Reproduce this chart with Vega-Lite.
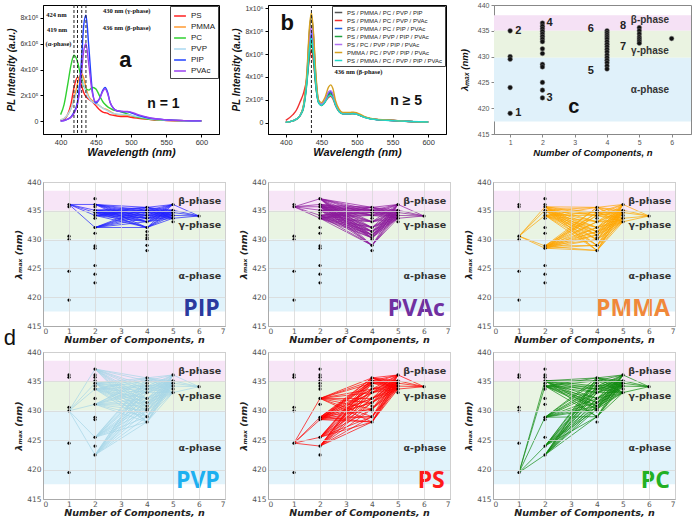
{
"$schema":"https://vega.github.io/schema/vega-lite/v6.json",
"padding":{"left":3,"top":0,"right":2,"bottom":2},
"background":"#ffffff",
"config":{"font":"Liberation Sans","view":{"stroke":"#000"},"axis":{"labelFont":"Liberation Sans","titleFont":"Liberation Sans","labelOverlap":false}},
"datasets":{
"specA":[
{"s":"PS","w":[400,405,410,415,419,424,427,430,433,436,440,445,450,455,460,463,467,470,475,480,490,495,500,510,520,530,550,575,600],"I":[0.05,0.15,0.5,1.4,2.6,3.4,3.2,2.7,2.2,1.9,1.7,1.5,1.2,0.9,0.7,0.65,0.6,0.5,0.45,0.4,0.35,0.35,0.3,0.22,0.15,0.1,0.05,0.02,0.01]},
{"s":"PMMA","w":[400,405,410,415,419,424,427,430,433,436,440,445,450,455,460,463,467,470,475,480,490,495,500,510,520,530,550,575,600],"I":[0.1,0.2,0.5,1.0,1.7,2.9,3.5,3.7,3.3,2.6,1.9,1.6,1.4,1.2,1.0,0.95,0.85,0.75,0.6,0.5,0.45,0.45,0.4,0.3,0.2,0.15,0.08,0.03,0.01]},
{"s":"PC","w":[400,405,410,415,419,424,427,430,433,436,440,445,450,455,460,463,467,470,475,480,490,495,500,510,520,530,550,575,600],"I":[0.5,1.3,2.8,4.4,5.1,4.6,3.9,3.3,2.7,2.5,2.4,2.6,2.5,2.0,1.5,1.3,1.1,1.0,0.85,0.8,0.65,0.55,0.45,0.3,0.2,0.12,0.06,0.02,0.01]},
{"s":"PVP","w":[400,405,410,415,419,424,427,430,433,436,440,445,450,455,460,463,467,470,475,480,490,495,500,510,520,530,550,575,600],"I":[0.1,0.2,0.5,1.0,1.6,2.4,2.9,3.1,2.8,2.3,1.8,1.5,1.35,1.2,1.0,0.9,0.8,0.7,0.6,0.55,0.5,0.5,0.45,0.35,0.25,0.15,0.08,0.03,0.01]},
{"s":"PIP","w":[400,405,410,415,419,424,427,430,433,436,440,445,450,455,460,463,467,470,475,480,490,495,500,510,520,530,550,575,600],"I":[0.0,0.05,0.15,0.35,0.7,1.5,2.8,5.0,7.5,8.2,5.8,2.4,1.4,1.7,2.4,2.6,2.2,1.5,1.0,0.8,0.72,0.72,0.65,0.45,0.3,0.2,0.1,0.04,0.02]},
{"s":"PVAc","w":[400,405,410,415,419,424,427,430,433,436,440,445,450,455,460,463,467,470,475,480,490,495,500,510,520,530,550,575,600],"I":[0.0,0.05,0.15,0.3,0.6,1.3,2.3,3.9,5.5,6.0,4.4,2.2,1.5,1.7,2.3,2.5,2.1,1.5,1.0,0.8,0.75,0.75,0.7,0.5,0.35,0.22,0.1,0.04,0.02]}
],
"specB":[
{"s":"PS / PMMA / PC / PVP / PIP","w":[400,410,415,420,425,430,433,436,439,442,446,450,455,460,463,466,470,475,480,490,495,500,510,520,530,550,575,600],"I":[0.03,0.15,0.3,0.6,1.5,4.5,7.8,9.4,7.5,4.2,1.9,1.6,1.9,2.5,2.6,2.4,1.6,1.0,0.8,0.8,0.82,0.75,0.5,0.33,0.26,0.18,0.1,0.05]},
{"s":"PS / PMMA / PC / PVP / PVAc","w":[400,410,415,420,425,430,433,436,439,442,446,450,455,460,463,466,470,475,480,490,495,500,510,520,530,550,575,600],"I":[0.2,0.7,1.1,1.8,2.6,4.0,5.5,6.4,5.2,3.3,1.8,1.55,1.8,2.2,2.3,2.1,1.45,0.95,0.78,0.76,0.78,0.72,0.48,0.32,0.25,0.18,0.1,0.05]},
{"s":"PS / PMMA / PC / PIP / PVAc","w":[400,410,415,420,425,430,433,436,439,442,446,450,455,460,463,466,470,475,480,490,495,500,510,520,530,550,575,600],"I":[0.03,0.15,0.3,0.6,1.4,4.0,6.6,7.8,6.3,3.6,1.8,1.55,1.9,2.6,2.7,2.45,1.6,1.0,0.8,0.8,0.82,0.75,0.5,0.33,0.26,0.18,0.1,0.05]},
{"s":"PS / PMMA / PVP / PIP / PVAc","w":[400,410,415,420,425,430,433,436,439,442,446,450,455,460,463,466,470,475,480,490,495,500,510,520,530,550,575,600],"I":[0.03,0.15,0.3,0.6,1.3,3.7,6.0,7.0,5.7,3.3,1.75,1.5,1.8,2.4,2.5,2.3,1.55,0.98,0.78,0.78,0.8,0.73,0.48,0.32,0.25,0.18,0.1,0.05]},
{"s":"PS / PC / PVP / PIP / PVAc","w":[400,410,415,420,425,430,433,436,439,442,446,450,455,460,463,466,470,475,480,490,495,500,510,520,530,550,575,600],"I":[0.03,0.15,0.3,0.6,1.5,4.3,7.2,8.4,6.8,3.9,1.85,1.6,1.95,2.7,2.8,2.55,1.65,1.02,0.8,0.8,0.82,0.75,0.5,0.33,0.26,0.18,0.1,0.05]},
{"s":"PMMA / PC / PVP / PIP / PVAc","w":[400,410,415,420,425,430,433,436,439,442,446,450,455,460,463,466,470,475,480,490,495,500,510,520,530,550,575,600],"I":[0.03,0.15,0.3,0.6,1.6,4.8,8.2,9.6,7.8,4.5,2.0,1.75,2.2,3.1,3.3,3.0,1.9,1.15,0.88,0.88,0.92,0.85,0.55,0.36,0.28,0.2,0.1,0.05]},
{"s":"PS / PMMA / PC / PVP / PIP / PVAc","w":[400,410,415,420,425,430,433,436,439,442,446,450,455,460,463,466,470,475,480,490,495,500,510,520,530,550,575,600],"I":[0.03,0.15,0.3,0.6,1.4,3.9,6.3,7.4,6.0,3.5,1.75,1.5,1.8,2.3,2.4,2.2,1.5,0.95,0.76,0.76,0.78,0.72,0.47,0.31,0.24,0.17,0.1,0.05]}
],
"ptsC":[
{"n":1,"y":435},{"n":1,"y":430},{"n":1,"y":429.5},{"n":1,"y":424},{"n":1,"y":419},
{"n":2,"y":436.5},{"n":2,"y":435.9},{"n":2,"y":435.4},{"n":2,"y":434.9},{"n":2,"y":434.4},{"n":2,"y":433.9},{"n":2,"y":433.4},{"n":2,"y":432.9},{"n":2,"y":431.5},{"n":2,"y":430.6},{"n":2,"y":428.5},{"n":2,"y":428.0},{"n":2,"y":425.0},{"n":2,"y":423.5},{"n":2,"y":422.0},
{"n":4,"y":435.0},{"n":4,"y":434.6},{"n":4,"y":434.2},{"n":4,"y":433.8},{"n":4,"y":433.4},{"n":4,"y":432.9},{"n":4,"y":432.4},{"n":4,"y":431.9},{"n":4,"y":431.4},{"n":4,"y":430.9},{"n":4,"y":430.3},{"n":4,"y":429.8},{"n":4,"y":429.3},{"n":4,"y":428.8},{"n":4,"y":428.2},{"n":4,"y":427.6},
{"n":5,"y":435.6},{"n":5,"y":435.0},{"n":5,"y":434.4},{"n":5,"y":433.8},{"n":5,"y":433.4},{"n":5,"y":433.0},{"n":5,"y":432.6},
{"n":6,"y":433.5}
],
"ptsD":[
{"n":1,"y":436.1},{"n":1,"y":435.7},{"n":1,"y":430.6},{"n":1,"y":430.0},{"n":1,"y":424.5},{"n":1,"y":419.5},
{"n":2,"y":437.1},{"n":2,"y":436.1},{"n":2,"y":435.7},{"n":2,"y":435.1},{"n":2,"y":434.7},{"n":2,"y":434.2},{"n":2,"y":433.7},{"n":2,"y":432.1},{"n":2,"y":431.1},{"n":2,"y":428.9},{"n":2,"y":428.5},{"n":2,"y":425.5},{"n":2,"y":424.0},{"n":2,"y":422.5},
{"n":4,"y":435.6},{"n":4,"y":435.1},{"n":4,"y":434.7},{"n":4,"y":434.2},{"n":4,"y":433.7},{"n":4,"y":433.1},{"n":4,"y":432.1},{"n":4,"y":431.4},{"n":4,"y":430.8},{"n":4,"y":430.3},{"n":4,"y":430.0},{"n":4,"y":429.0},{"n":4,"y":428.1},
{"n":5,"y":436.1},{"n":5,"y":435.1},{"n":5,"y":434.7},{"n":5,"y":434.2},{"n":5,"y":433.7},{"n":5,"y":433.1},
{"n":6,"y":434.1}
],
"seg":[
{"p":"PIP","n":1,"n2":2,"y":[436.1],"y2":[436.1,435.1,434.7,434.2,432.1]},
{"p":"PIP","n":2,"n2":4,"y":[436.1,435.1,434.7,434.2,432.1],"y2":[435.6,435.1,434.7,434.2,433.7,433.1,432.1]},
{"p":"PIP","n":4,"n2":5,"y":[435.6,435.1,434.7,434.2,433.7,433.1,432.1],"y2":[436.1,435.1,434.7,434.2,433.7]},
{"p":"PIP","n":5,"n2":6,"y":[436.1,435.1,434.7,434.2,433.7],"y2":[434.1]},
{"p":"PVAc","n":1,"n2":2,"y":[435.7],"y2":[437.1,436.1,435.7,435.1,434.2,433.7]},
{"p":"PVAc","n":2,"n2":4,"y":[437.1,436.1,435.7,435.1,434.2,433.7],"y2":[435.6,435.1,434.7,434.2,433.1,432.1,431.4,430.8,430.3,429.0]},
{"p":"PVAc","n":4,"n2":5,"y":[435.6,435.1,434.7,434.2,433.1,432.1,431.4,430.8,430.3,429.0],"y2":[436.1,435.1,434.7,434.2,433.7]},
{"p":"PVAc","n":5,"n2":6,"y":[436.1,435.1,434.7,434.2,433.7],"y2":[434.1]},
{"p":"PMMA","n":1,"n2":2,"y":[430.6],"y2":[435.7,435.1,434.2,428.9,428.5]},
{"p":"PMMA","n":2,"n2":4,"y":[435.7,435.1,434.2,428.9,428.5],"y2":[435.6,434.7,434.2,433.1,432.1,431.4,430.8,430.0,429.0,428.1]},
{"p":"PMMA","n":4,"n2":5,"y":[435.6,434.7,434.2,433.1,432.1,431.4,430.8,430.0,429.0,428.1],"y2":[436.1,435.1,434.7,433.7,433.1]},
{"p":"PMMA","n":5,"n2":6,"y":[436.1,435.1,434.7,433.7,433.1],"y2":[434.1]},
{"p":"PVP","n":1,"n2":2,"y":[430.0],"y2":[437.1,434.7,433.7,431.1,425.5,422.5]},
{"p":"PVP","n":2,"n2":4,"y":[437.1,434.7,433.7,431.1,425.5,422.5],"y2":[435.6,435.1,434.2,433.7,433.1,432.1,431.4,430.8,430.0,429.0,428.1]},
{"p":"PVP","n":4,"n2":5,"y":[435.6,435.1,434.2,433.7,433.1,432.1,431.4,430.8,430.0,429.0,428.1],"y2":[436.1,435.1,434.7,434.2,433.1]},
{"p":"PVP","n":5,"n2":6,"y":[436.1,435.1,434.7,434.2,433.1],"y2":[434.1]},
{"p":"PS","n":1,"n2":2,"y":[424.5],"y2":[432.1,428.9,428.5,425.5,424.0]},
{"p":"PS","n":2,"n2":4,"y":[432.1,428.9,428.5,425.5,424.0],"y2":[435.6,435.1,434.7,433.7,433.1,432.1,431.4,430.3,429.0,428.1]},
{"p":"PS","n":4,"n2":5,"y":[435.6,435.1,434.7,433.7,433.1,432.1,431.4,430.3,429.0,428.1],"y2":[436.1,435.1,434.7,434.2,433.7]},
{"p":"PS","n":5,"n2":6,"y":[436.1,435.1,434.7,434.2,433.7],"y2":[434.1]},
{"p":"PC","n":1,"n2":2,"y":[419.5],"y2":[435.1,434.2,428.9,424.0,422.5]},
{"p":"PC","n":2,"n2":4,"y":[435.1,434.2,428.9,424.0,422.5],"y2":[435.6,435.1,434.2,433.7,433.1,432.1,431.4,430.8,430.3,429.0]},
{"p":"PC","n":4,"n2":5,"y":[435.6,435.1,434.2,433.7,433.1,432.1,431.4,430.8,430.3,429.0],"y2":[436.1,435.1,434.7,434.2,433.1]},
{"p":"PC","n":5,"n2":6,"y":[436.1,435.1,434.7,434.2,433.1],"y2":[434.1]}
],
"bandsD":[{"ph":"β","y":435,"y2":438.5},{"ph":"γ","y":430,"y2":435},{"ph":"α","y":417.5,"y2":430}],
"bandsC":[{"ph":"β","y":435,"y2":438},{"ph":"γ","y":429.8,"y2":435},{"ph":"α","y":417.4,"y2":429.8}],
"phaseD":[{"t":"β-phase","y":436.7},{"t":"γ-phase","y":432.5},{"t":"α-phase","y":423.7}]
},
"vconcat":[
{"hconcat":[
{"width":176,"height":129,"view":{"stroke":"#000","strokeWidth":1},
"layer":[
{"data":{"name":"specA"},"transform":[{"flatten":["w","I"]}],
"mark":{"type":"line","strokeWidth":1.4,"interpolate":"monotone"},
"encoding":{
"x":{"field":"w","type":"quantitative","scale":{"domain":[375,625],"nice":false,"zero":false},"axis":{"values":[400,450,500,550,600],"tickCount":12,"format":"d","title":"Wavelength (nm)","titleFontSize":11,"titleFontStyle":"italic","titleFontWeight":"bold","titleColor":"#111","labelFontSize":7.5,"labelColor":"#333","labelPadding":1,"grid":false,"tickSize":3,"domainColor":"#000","tickColor":"#000","titlePadding":1}},
"y":{"field":"I","type":"quantitative","scale":{"domain":[-1,9],"nice":false,"zero":false},"axis":{"values":[0,2,4,6,8],"tickCount":12,"labelExpr":"datum.value==0?'0':datum.value+'x10⁵'","title":"PL Intensity (a.u.)","titleFontSize":10,"titleFontStyle":"italic","titleFontWeight":"bold","titleColor":"#111","labelFontSize":7,"labelColor":"#333","grid":false,"tickSize":3,"domainColor":"#000","tickColor":"#000","titlePadding":3}},
"color":{"field":"s","type":"nominal","scale":{"domain":["PS","PMMA","PC","PVP","PIP","PVAc"],"range":["#ff2020","#ff9a30","#30d030","#a8d8f0","#2040ff","#9a40f0"]},"legend":{"title":null,"orient":"top-right","offset":1,"strokeColor":"#444","fillColor":"#ffffff","padding":3,"labelFontSize":8,"labelColor":"#222","symbolType":"stroke","symbolStrokeWidth":1.5,"symbolSize":140,"rowPadding":0,"labelLimit":200}}
}},
{"data":{"values":[{"w":419},{"w":424},{"w":430},{"w":436}]},"mark":{"type":"rule","strokeDash":[3,2],"color":"#222","strokeWidth":1},"encoding":{"x":{"field":"w","type":"quantitative"}}},
{"data":{"values":[{"t":"424 nm","w":394,"I":8.2},{"t":"419 nm","w":395,"I":7.1},{"t":"(α-phase)","w":397,"I":5.95},{"t":"430 nm  (γ-phase)","w":494,"I":8.5},{"t":"436 nm  (β-phase)","w":494,"I":7.2}]},
"mark":{"type":"text","font":"Liberation Serif","fontWeight":"bold","fontSize":6.5,"color":"#111"},
"encoding":{"x":{"field":"w","type":"quantitative"},"y":{"field":"I","type":"quantitative"},"text":{"field":"t"}}},
{"data":{"values":[{"t":"a","w":492,"I":4.7}]},"mark":{"type":"text","fontWeight":"bold","fontSize":22,"color":"#111"},"encoding":{"x":{"field":"w","type":"quantitative"},"y":{"field":"I","type":"quantitative"},"text":{"field":"t"}}},
{"data":{"values":[{"t":"n = 1","w":546,"I":1.3}]},"mark":{"type":"text","fontWeight":"bold","fontSize":14,"color":"#111"},"encoding":{"x":{"field":"w","type":"quantitative"},"y":{"field":"I","type":"quantitative"},"text":{"field":"t"}}}
]},
{"width":178,"height":129,"view":{"stroke":"#000","strokeWidth":1},
"layer":[
{"data":{"name":"specB"},"transform":[{"flatten":["w","I"]}],
"mark":{"type":"line","strokeWidth":1.4,"interpolate":"monotone"},
"encoding":{
"x":{"field":"w","type":"quantitative","scale":{"domain":[375,625],"nice":false,"zero":false},"axis":{"values":[400,450,500,550,600],"tickCount":12,"format":"d","title":"Wavelength (nm)","titleFontSize":11,"titleFontStyle":"italic","titleFontWeight":"bold","titleColor":"#111","labelFontSize":7.5,"labelColor":"#333","labelPadding":1,"grid":false,"tickSize":3,"domainColor":"#000","tickColor":"#000","titlePadding":1}},
"y":{"field":"I","type":"quantitative","scale":{"domain":[-1,10.3],"nice":false,"zero":false},"axis":{"values":[0,2,4,6,8,10],"tickCount":12,"labelExpr":"datum.value==0?'0':(datum.value==10?'1x10⁶':datum.value+'x10⁵')","title":"PL Intensity (a.u.)","titleFontSize":10,"titleFontStyle":"italic","titleFontWeight":"bold","titleColor":"#111","labelFontSize":7,"labelColor":"#333","grid":false,"tickSize":3,"domainColor":"#000","tickColor":"#000","titlePadding":3}},
"color":{"field":"s","type":"nominal","scale":{"domain":["PS / PMMA / PC / PVP / PIP","PS / PMMA / PC / PVP / PVAc","PS / PMMA / PC / PIP / PVAc","PS / PMMA / PVP / PIP / PVAc","PS / PC / PVP / PIP / PVAc","PMMA / PC / PVP / PIP / PVAc","PS / PMMA / PC / PVP / PIP / PVAc"],"range":["#555555","#f03030","#2060e0","#20a040","#b070f0","#d4a020","#20d8c8"]},"legend":{"title":null,"orient":"top-right","offset":1,"strokeColor":"#444","fillColor":"#ffffff","padding":2,"labelFontSize":6,"labelColor":"#222","symbolType":"stroke","symbolStrokeWidth":1.5,"symbolSize":56,"rowPadding":0,"labelLimit":200}}
}},
{"data":{"values":[{"w":436}]},"mark":{"type":"rule","strokeDash":[3,2],"color":"#222","strokeWidth":1},"encoding":{"x":{"field":"w","type":"quantitative"}}},
{"data":{"values":[{"t":"436 nm (β-phase)","w":502,"I":4.4}]},"mark":{"type":"text","font":"Liberation Serif","fontWeight":"bold","fontSize":6.5,"color":"#111"},"encoding":{"x":{"field":"w","type":"quantitative"},"y":{"field":"I","type":"quantitative"},"text":{"field":"t"}}},
{"data":{"values":[{"t":"b","w":402,"I":8.7}]},"mark":{"type":"text","fontWeight":"bold","fontSize":22,"color":"#111"},"encoding":{"x":{"field":"w","type":"quantitative"},"y":{"field":"I","type":"quantitative"},"text":{"field":"t"}}},
{"data":{"values":[{"t":"n ≥ 5","w":569,"I":1.9}]},"mark":{"type":"text","fontWeight":"bold","fontSize":14,"color":"#111"},"encoding":{"x":{"field":"w","type":"quantitative"},"y":{"field":"I","type":"quantitative"},"text":{"field":"t"}}}
]},
{"width":197,"height":129,"view":{"stroke":"#888","strokeWidth":1},
"layer":[
{"data":{"name":"bandsC"},"mark":{"type":"rect"},"encoding":{"y":{"field":"y","type":"quantitative","scale":{"domain":[415,440],"nice":false,"zero":false}},"y2":{"field":"y2"},"color":{"field":"ph","type":"nominal","scale":{"domain":["β","γ","α"],"range":["#f5e1f5","#eaf3e1","#e0f1fa"]},"legend":null}}},
{"data":{"name":"ptsC"},"mark":{"type":"circle","size":22,"color":"#111","opacity":1,"stroke":"#777","strokeWidth":0.5},
"encoding":{
"x":{"field":"n","type":"quantitative","scale":{"domain":[0.5,6.6],"nice":false,"zero":false},"axis":{"values":[1,2,3,4,5,6],"tickCount":12,"format":"d","title":"Number of Components, n","titleFontSize":9.5,"titleFontStyle":"italic","titleFontWeight":"bold","titleColor":"#111","labelFontSize":7,"labelColor":"#555","labelPadding":1,"grid":false,"tickSize":3,"domainColor":"#888","tickColor":"#888","titlePadding":2}},
"y":{"field":"y","type":"quantitative","scale":{"domain":[415,440],"nice":false,"zero":false},"axis":{"values":[415,420,425,430,435,440],"tickCount":12,"format":"d","title":"λₘₐₓ (nm)","titleFontSize":9.5,"titleFontStyle":"italic","titleFontWeight":"bold","titleColor":"#111","labelFontSize":7,"labelColor":"#555","grid":false,"tickSize":3,"domainColor":"#888","tickColor":"#888","titlePadding":8}}
}},
{"data":{"values":[{"t":"β-phase","n":5.33,"y":437.1},{"t":"γ-phase","n":5.33,"y":431.1},{"t":"α-phase","n":5.33,"y":423.6}]},"mark":{"type":"text","fontWeight":"bold","fontSize":10,"color":"#333"},"encoding":{"x":{"field":"n","type":"quantitative"},"y":{"field":"y","type":"quantitative"},"text":{"field":"t"}}},
{"data":{"values":[{"t":"1","n":1.25,"y":419},{"t":"2","n":1.25,"y":435},{"t":"4","n":2.22,"y":436.6},{"t":"3","n":2.22,"y":421.9},{"t":"6","n":3.5,"y":435.4},{"t":"5","n":3.5,"y":427.3},{"t":"8","n":4.5,"y":436},{"t":"7","n":4.5,"y":431.8}]},"mark":{"type":"text","fontWeight":"bold","fontSize":11,"color":"#222"},"encoding":{"x":{"field":"n","type":"quantitative"},"y":{"field":"y","type":"quantitative"},"text":{"field":"t"}}},
{"data":{"values":[{"t":"c","n":2.97,"y":420.3}]},"mark":{"type":"text","fontWeight":"bold","fontSize":20,"color":"#111"},"encoding":{"x":{"field":"n","type":"quantitative"},"y":{"field":"y","type":"quantitative"},"text":{"field":"t"}}}
]}
],"spacing":11,"resolve":{"scale":{"color":"independent"},"legend":{"color":"independent"}}},
{"vconcat":[
{"hconcat":[
{"width":182,"height":144,"view":{"stroke":"#aaa"},"layer":[
{"data":{"name":"bandsD"},"mark":{"type":"rect"},"encoding":{"y":{"field":"y","type":"quantitative","scale":{"domain":[415,440],"nice":false,"zero":false}},"y2":{"field":"y2"},"color":{"field":"ph","type":"nominal","scale":{"domain":["β","γ","α"],"range":["#f7e5f7","#e9f4e3","#e1f3fb"]},"legend":null}}},
{"data":{"name":"seg"},"transform":[{"filter":"datum.p=='PIP'"},{"flatten":["y"]},{"flatten":["y2"]}],"mark":{"type":"rule","color":"#2020ff","strokeWidth":0.7},"encoding":{"x":{"field":"n","type":"quantitative"},"x2":{"field":"n2"},"y":{"field":"y","type":"quantitative"},"y2":{"field":"y2"}}},
{"data":{"name":"ptsD"},"mark":{"type":"circle","size":10,"color":"#000","opacity":1},"encoding":{
"x":{"field":"n","type":"quantitative","scale":{"domain":[0,7],"nice":false,"zero":false},"axis":{"values":[0,1,2,3,4,5,6,7],"tickCount":12,"format":"d","title":"Number of Components, n","zindex":1,"grid":true,"gridColor":"#d8d8d8","gridOpacity":0.8,"domainColor":"#aaa","ticks":false,"labelPadding":1,"labelColor":"#555","labelFontSize":7.5,"labelFont":"DejaVu Sans","titleFont":"DejaVu Sans","titleFontSize":9.5,"titleFontWeight":"bold","titleFontStyle":"italic","titleColor":"#222","titlePadding":0}},
"y":{"field":"y","type":"quantitative","scale":{"domain":[415,440],"nice":false,"zero":false},"axis":{"values":[415,420,425,430,435,440],"tickCount":12,"format":"d","title":"λₘₐₓ (nm)","zindex":1,"grid":true,"gridColor":"#d8d8d8","gridOpacity":0.8,"domainColor":"#aaa","ticks":false,"labelPadding":2,"labelColor":"#555","labelFontSize":7.5,"labelFont":"DejaVu Sans","titleFont":"DejaVu Sans","titleFontSize":9.5,"titleFontWeight":"bold","titleFontStyle":"italic","titleColor":"#222","titlePadding":3}}}},
{"data":{"name":"phaseD"},"mark":{"type":"text","align":"right","fontWeight":"bold","fontSize":9.5,"font":"DejaVu Sans","color":"#333"},"encoding":{"x":{"datum":6.85,"type":"quantitative"},"y":{"field":"y","type":"quantitative"},"text":{"field":"t"}}},
{"data":{"values":[{"t":"PIP"}]},"mark":{"type":"text","align":"right","baseline":"alphabetic","fontWeight":"bold","fontSize":23,"font":"Open Sans","color":"#2b3a9e"},"encoding":{"x":{"datum":6.8,"type":"quantitative"},"y":{"datum":416.8,"type":"quantitative"},"text":{"field":"t"}}},
{"data":{"values":[{"t":"d"}]},"mark":{"type":"text","fontSize":22,"color":"#111","clip":false,"baseline":"middle"},"encoding":{"x":{"datum":-1.27,"type":"quantitative"},"y":{"datum":412.9,"type":"quantitative"},"text":{"field":"t"}}}
]},
{"width":182,"height":144,"view":{"stroke":"#aaa"},"layer":[
{"data":{"name":"bandsD"},"mark":{"type":"rect"},"encoding":{"y":{"field":"y","type":"quantitative","scale":{"domain":[415,440],"nice":false,"zero":false}},"y2":{"field":"y2"},"color":{"field":"ph","type":"nominal","scale":{"domain":["β","γ","α"],"range":["#f7e5f7","#e9f4e3","#e1f3fb"]},"legend":null}}},
{"data":{"name":"seg"},"transform":[{"filter":"datum.p=='PVAc'"},{"flatten":["y"]},{"flatten":["y2"]}],"mark":{"type":"rule","color":"#8b1a9b","strokeWidth":0.7},"encoding":{"x":{"field":"n","type":"quantitative"},"x2":{"field":"n2"},"y":{"field":"y","type":"quantitative"},"y2":{"field":"y2"}}},
{"data":{"name":"ptsD"},"mark":{"type":"circle","size":10,"color":"#000","opacity":1},"encoding":{
"x":{"field":"n","type":"quantitative","scale":{"domain":[0,7],"nice":false,"zero":false},"axis":{"values":[0,1,2,3,4,5,6,7],"tickCount":12,"format":"d","title":"Number of Components, n","zindex":1,"grid":true,"gridColor":"#d8d8d8","gridOpacity":0.8,"domainColor":"#aaa","ticks":false,"labelPadding":1,"labelColor":"#555","labelFontSize":7.5,"labelFont":"DejaVu Sans","titleFont":"DejaVu Sans","titleFontSize":9.5,"titleFontWeight":"bold","titleFontStyle":"italic","titleColor":"#222","titlePadding":0}},
"y":{"field":"y","type":"quantitative","scale":{"domain":[415,440],"nice":false,"zero":false},"axis":{"values":[415,420,425,430,435,440],"tickCount":12,"format":"d","title":"λₘₐₓ (nm)","zindex":1,"grid":true,"gridColor":"#d8d8d8","gridOpacity":0.8,"domainColor":"#aaa","ticks":false,"labelPadding":2,"labelColor":"#555","labelFontSize":7.5,"labelFont":"DejaVu Sans","titleFont":"DejaVu Sans","titleFontSize":9.5,"titleFontWeight":"bold","titleFontStyle":"italic","titleColor":"#222","titlePadding":3}}}},
{"data":{"name":"phaseD"},"mark":{"type":"text","align":"right","fontWeight":"bold","fontSize":9.5,"font":"DejaVu Sans","color":"#333"},"encoding":{"x":{"datum":6.85,"type":"quantitative"},"y":{"field":"y","type":"quantitative"},"text":{"field":"t"}}},
{"data":{"values":[{"t":"PVAc"}]},"mark":{"type":"text","align":"right","baseline":"alphabetic","fontWeight":"bold","fontSize":23,"font":"Open Sans","color":"#7030a0"},"encoding":{"x":{"datum":6.8,"type":"quantitative"},"y":{"datum":416.8,"type":"quantitative"},"text":{"field":"t"}}}
]},
{"width":182,"height":144,"view":{"stroke":"#aaa"},"layer":[
{"data":{"name":"bandsD"},"mark":{"type":"rect"},"encoding":{"y":{"field":"y","type":"quantitative","scale":{"domain":[415,440],"nice":false,"zero":false}},"y2":{"field":"y2"},"color":{"field":"ph","type":"nominal","scale":{"domain":["β","γ","α"],"range":["#f7e5f7","#e9f4e3","#e1f3fb"]},"legend":null}}},
{"data":{"name":"seg"},"transform":[{"filter":"datum.p=='PMMA'"},{"flatten":["y"]},{"flatten":["y2"]}],"mark":{"type":"rule","color":"#ffa500","strokeWidth":0.7},"encoding":{"x":{"field":"n","type":"quantitative"},"x2":{"field":"n2"},"y":{"field":"y","type":"quantitative"},"y2":{"field":"y2"}}},
{"data":{"name":"ptsD"},"mark":{"type":"circle","size":10,"color":"#000","opacity":1},"encoding":{
"x":{"field":"n","type":"quantitative","scale":{"domain":[0,7],"nice":false,"zero":false},"axis":{"values":[0,1,2,3,4,5,6,7],"tickCount":12,"format":"d","title":"Number of Components, n","zindex":1,"grid":true,"gridColor":"#d8d8d8","gridOpacity":0.8,"domainColor":"#aaa","ticks":false,"labelPadding":1,"labelColor":"#555","labelFontSize":7.5,"labelFont":"DejaVu Sans","titleFont":"DejaVu Sans","titleFontSize":9.5,"titleFontWeight":"bold","titleFontStyle":"italic","titleColor":"#222","titlePadding":0}},
"y":{"field":"y","type":"quantitative","scale":{"domain":[415,440],"nice":false,"zero":false},"axis":{"values":[415,420,425,430,435,440],"tickCount":12,"format":"d","title":"λₘₐₓ (nm)","zindex":1,"grid":true,"gridColor":"#d8d8d8","gridOpacity":0.8,"domainColor":"#aaa","ticks":false,"labelPadding":2,"labelColor":"#555","labelFontSize":7.5,"labelFont":"DejaVu Sans","titleFont":"DejaVu Sans","titleFontSize":9.5,"titleFontWeight":"bold","titleFontStyle":"italic","titleColor":"#222","titlePadding":3}}}},
{"data":{"name":"phaseD"},"mark":{"type":"text","align":"right","fontWeight":"bold","fontSize":9.5,"font":"DejaVu Sans","color":"#333"},"encoding":{"x":{"datum":6.85,"type":"quantitative"},"y":{"field":"y","type":"quantitative"},"text":{"field":"t"}}},
{"data":{"values":[{"t":"PMMA"}]},"mark":{"type":"text","align":"right","baseline":"alphabetic","fontWeight":"bold","fontSize":23,"font":"Open Sans","color":"#f0883a"},"encoding":{"x":{"datum":6.8,"type":"quantitative"},"y":{"datum":416.8,"type":"quantitative"},"text":{"field":"t"}}}
]}
],"spacing":12,"resolve":{"scale":{"color":"independent"},"legend":{"color":"independent"}}},
{"hconcat":[
{"width":182,"height":147,"view":{"stroke":"#aaa"},"layer":[
{"data":{"name":"bandsD"},"mark":{"type":"rect"},"encoding":{"y":{"field":"y","type":"quantitative","scale":{"domain":[415,440],"nice":false,"zero":false}},"y2":{"field":"y2"},"color":{"field":"ph","type":"nominal","scale":{"domain":["β","γ","α"],"range":["#f7e5f7","#e9f4e3","#e1f3fb"]},"legend":null}}},
{"data":{"name":"seg"},"transform":[{"filter":"datum.p=='PVP'"},{"flatten":["y"]},{"flatten":["y2"]}],"mark":{"type":"rule","color":"#a6d6e6","strokeWidth":0.7},"encoding":{"x":{"field":"n","type":"quantitative"},"x2":{"field":"n2"},"y":{"field":"y","type":"quantitative"},"y2":{"field":"y2"}}},
{"data":{"name":"ptsD"},"mark":{"type":"circle","size":10,"color":"#000","opacity":1},"encoding":{
"x":{"field":"n","type":"quantitative","scale":{"domain":[0,7],"nice":false,"zero":false},"axis":{"values":[0,1,2,3,4,5,6,7],"tickCount":12,"format":"d","title":"Number of Components, n","zindex":1,"grid":true,"gridColor":"#d8d8d8","gridOpacity":0.8,"domainColor":"#aaa","ticks":false,"labelPadding":1,"labelColor":"#555","labelFontSize":7.5,"labelFont":"DejaVu Sans","titleFont":"DejaVu Sans","titleFontSize":9.5,"titleFontWeight":"bold","titleFontStyle":"italic","titleColor":"#222","titlePadding":0}},
"y":{"field":"y","type":"quantitative","scale":{"domain":[415,440],"nice":false,"zero":false},"axis":{"values":[415,420,425,430,435,440],"tickCount":12,"format":"d","title":"λₘₐₓ (nm)","zindex":1,"grid":true,"gridColor":"#d8d8d8","gridOpacity":0.8,"domainColor":"#aaa","ticks":false,"labelPadding":2,"labelColor":"#555","labelFontSize":7.5,"labelFont":"DejaVu Sans","titleFont":"DejaVu Sans","titleFontSize":9.5,"titleFontWeight":"bold","titleFontStyle":"italic","titleColor":"#222","titlePadding":3}}}},
{"data":{"name":"phaseD"},"mark":{"type":"text","align":"right","fontWeight":"bold","fontSize":9.5,"font":"DejaVu Sans","color":"#333"},"encoding":{"x":{"datum":6.85,"type":"quantitative"},"y":{"field":"y","type":"quantitative"},"text":{"field":"t"}}},
{"data":{"values":[{"t":"PVP"}]},"mark":{"type":"text","align":"right","baseline":"alphabetic","fontWeight":"bold","fontSize":23,"font":"Open Sans","color":"#1cb0f0"},"encoding":{"x":{"datum":6.8,"type":"quantitative"},"y":{"datum":416.8,"type":"quantitative"},"text":{"field":"t"}}}
]},
{"width":182,"height":147,"view":{"stroke":"#aaa"},"layer":[
{"data":{"name":"bandsD"},"mark":{"type":"rect"},"encoding":{"y":{"field":"y","type":"quantitative","scale":{"domain":[415,440],"nice":false,"zero":false}},"y2":{"field":"y2"},"color":{"field":"ph","type":"nominal","scale":{"domain":["β","γ","α"],"range":["#f7e5f7","#e9f4e3","#e1f3fb"]},"legend":null}}},
{"data":{"name":"seg"},"transform":[{"filter":"datum.p=='PS'"},{"flatten":["y"]},{"flatten":["y2"]}],"mark":{"type":"rule","color":"#ff0000","strokeWidth":0.7},"encoding":{"x":{"field":"n","type":"quantitative"},"x2":{"field":"n2"},"y":{"field":"y","type":"quantitative"},"y2":{"field":"y2"}}},
{"data":{"name":"ptsD"},"mark":{"type":"circle","size":10,"color":"#000","opacity":1},"encoding":{
"x":{"field":"n","type":"quantitative","scale":{"domain":[0,7],"nice":false,"zero":false},"axis":{"values":[0,1,2,3,4,5,6,7],"tickCount":12,"format":"d","title":"Number of Components, n","zindex":1,"grid":true,"gridColor":"#d8d8d8","gridOpacity":0.8,"domainColor":"#aaa","ticks":false,"labelPadding":1,"labelColor":"#555","labelFontSize":7.5,"labelFont":"DejaVu Sans","titleFont":"DejaVu Sans","titleFontSize":9.5,"titleFontWeight":"bold","titleFontStyle":"italic","titleColor":"#222","titlePadding":0}},
"y":{"field":"y","type":"quantitative","scale":{"domain":[415,440],"nice":false,"zero":false},"axis":{"values":[415,420,425,430,435,440],"tickCount":12,"format":"d","title":"λₘₐₓ (nm)","zindex":1,"grid":true,"gridColor":"#d8d8d8","gridOpacity":0.8,"domainColor":"#aaa","ticks":false,"labelPadding":2,"labelColor":"#555","labelFontSize":7.5,"labelFont":"DejaVu Sans","titleFont":"DejaVu Sans","titleFontSize":9.5,"titleFontWeight":"bold","titleFontStyle":"italic","titleColor":"#222","titlePadding":3}}}},
{"data":{"name":"phaseD"},"mark":{"type":"text","align":"right","fontWeight":"bold","fontSize":9.5,"font":"DejaVu Sans","color":"#333"},"encoding":{"x":{"datum":6.85,"type":"quantitative"},"y":{"field":"y","type":"quantitative"},"text":{"field":"t"}}},
{"data":{"values":[{"t":"PS"}]},"mark":{"type":"text","align":"right","baseline":"alphabetic","fontWeight":"bold","fontSize":23,"font":"Open Sans","color":"#ff1a1a"},"encoding":{"x":{"datum":6.8,"type":"quantitative"},"y":{"datum":416.8,"type":"quantitative"},"text":{"field":"t"}}}
]},
{"width":182,"height":147,"view":{"stroke":"#aaa"},"layer":[
{"data":{"name":"bandsD"},"mark":{"type":"rect"},"encoding":{"y":{"field":"y","type":"quantitative","scale":{"domain":[415,440],"nice":false,"zero":false}},"y2":{"field":"y2"},"color":{"field":"ph","type":"nominal","scale":{"domain":["β","γ","α"],"range":["#f7e5f7","#e9f4e3","#e1f3fb"]},"legend":null}}},
{"data":{"name":"seg"},"transform":[{"filter":"datum.p=='PC'"},{"flatten":["y"]},{"flatten":["y2"]}],"mark":{"type":"rule","color":"#108a10","strokeWidth":0.7},"encoding":{"x":{"field":"n","type":"quantitative"},"x2":{"field":"n2"},"y":{"field":"y","type":"quantitative"},"y2":{"field":"y2"}}},
{"data":{"name":"ptsD"},"mark":{"type":"circle","size":10,"color":"#000","opacity":1},"encoding":{
"x":{"field":"n","type":"quantitative","scale":{"domain":[0,7],"nice":false,"zero":false},"axis":{"values":[0,1,2,3,4,5,6,7],"tickCount":12,"format":"d","title":"Number of Components, n","zindex":1,"grid":true,"gridColor":"#d8d8d8","gridOpacity":0.8,"domainColor":"#aaa","ticks":false,"labelPadding":1,"labelColor":"#555","labelFontSize":7.5,"labelFont":"DejaVu Sans","titleFont":"DejaVu Sans","titleFontSize":9.5,"titleFontWeight":"bold","titleFontStyle":"italic","titleColor":"#222","titlePadding":0}},
"y":{"field":"y","type":"quantitative","scale":{"domain":[415,440],"nice":false,"zero":false},"axis":{"values":[415,420,425,430,435,440],"tickCount":12,"format":"d","title":"λₘₐₓ (nm)","zindex":1,"grid":true,"gridColor":"#d8d8d8","gridOpacity":0.8,"domainColor":"#aaa","ticks":false,"labelPadding":2,"labelColor":"#555","labelFontSize":7.5,"labelFont":"DejaVu Sans","titleFont":"DejaVu Sans","titleFontSize":9.5,"titleFontWeight":"bold","titleFontStyle":"italic","titleColor":"#222","titlePadding":3}}}},
{"data":{"name":"phaseD"},"mark":{"type":"text","align":"right","fontWeight":"bold","fontSize":9.5,"font":"DejaVu Sans","color":"#333"},"encoding":{"x":{"datum":6.85,"type":"quantitative"},"y":{"field":"y","type":"quantitative"},"text":{"field":"t"}}},
{"data":{"values":[{"t":"PC"}]},"mark":{"type":"text","align":"right","baseline":"alphabetic","fontWeight":"bold","fontSize":23,"font":"Open Sans","color":"#22b022"},"encoding":{"x":{"datum":6.8,"type":"quantitative"},"y":{"datum":416.8,"type":"quantitative"},"text":{"field":"t"}}}
]}
],"spacing":12,"resolve":{"scale":{"color":"independent"},"legend":{"color":"independent"}}}
],"spacing":-3,"resolve":{"scale":{"color":"independent"},"legend":{"color":"independent"}}}
],"spacing":19,"resolve":{"scale":{"color":"independent"},"legend":{"color":"independent"}}
}
